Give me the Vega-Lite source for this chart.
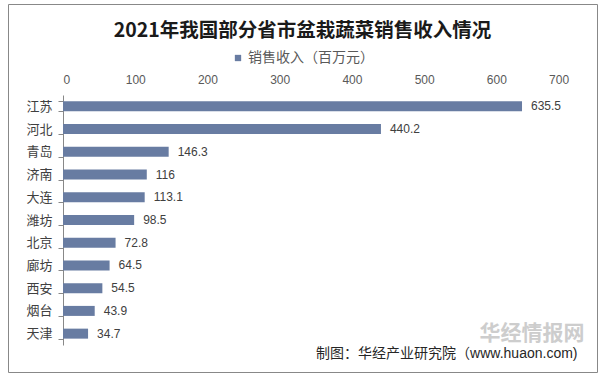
{
  "$schema": "https://vega.github.io/schema/vega-lite/v6.json",
  "width": 589,
  "height": 368,
  "autosize": {"type": "none"},
  "padding": {"left": 8, "top": 4, "right": 8, "bottom": 8},
  "background": "white",
  "config": {
    "view": {"stroke": "#888888", "strokeWidth": 1},
    "font": "Liberation Sans, Noto Sans CJK SC"
  },
  "title": {
    "text": "2021年我国部分省市盆栽蔬菜销售收入情况",
    "font": "Noto Sans CJK SC",
    "fontSize": 19.5,
    "fontWeight": "bold",
    "color": "#1a1a1a",
    "anchor": "middle",
    "frame": "group",
    "offset": 0,
    "baseline": "middle",
    "dy": 52
  },
  "data": {
    "values": [
      {"city": "江苏", "value": 635.5},
      {"city": "河北", "value": 440.2},
      {"city": "青岛", "value": 146.3},
      {"city": "济南", "value": 116},
      {"city": "大连", "value": 113.1},
      {"city": "潍坊", "value": 98.5},
      {"city": "北京", "value": 72.8},
      {"city": "廊坊", "value": 64.5},
      {"city": "西安", "value": 54.5},
      {"city": "烟台", "value": 43.9},
      {"city": "天津", "value": 34.7}
    ]
  },
  "encoding": {
    "y": {
      "field": "city",
      "type": "nominal",
      "sort": null,
      "scale": {"range": [91, 341], "paddingInner": 0.56, "paddingOuter": 0.28},
      "axis": {
        "orient": "left",
        "offset": -55,
        "domainColor": "#888888",
        "tickColor": "#888888",
        "tickSize": 5,
        "tickBand": "extent",
        "labelFontSize": 13,
        "labelColor": "#404040",
        "labelPadding": 6,
        "title": "制图：华经产业研究院（www.huaon.com)",
        "titleAngle": 0,
        "titleX": 514,
        "titleY": 349,
        "titleAlign": "right",
        "titleBaseline": "middle",
        "titleFontSize": 14,
        "titleFontWeight": "normal",
        "titleColor": "#262626"
      }
    },
    "x": {
      "field": "value",
      "type": "quantitative",
      "scale": {"domain": [0, 700], "nice": false, "range": [55, 560.6]},
      "axis": {
        "orient": "top",
        "offset": -84,
        "values": [0, 100, 200, 300, 400, 500, 600, 700],
        "domain": false,
        "ticks": false,
        "grid": false,
        "labelFontSize": 12,
        "labelColor": "#595959",
        "labelPadding": 2,
        "title": "华经情报网",
        "titleX": 471,
        "titleY": 245,
        "titleAlign": "left",
        "titleBaseline": "middle",
        "titleFontSize": 21,
        "titleFontWeight": "bold",
        "titleColor": "#cdcdcd",
        "titleFont": "Noto Sans CJK SC"
      }
    }
  },
  "layer": [
    {
      "mark": {"type": "bar"},
      "encoding": {
        "color": {
          "datum": "销售收入（百万元）",
          "scale": {"range": ["#687CA2"]},
          "legend": {
            "orient": "none",
            "legendX": 223,
            "legendY": 47,
            "title": null,
            "symbolType": "square",
            "symbolSize": 40,
            "labelFontSize": 14,
            "labelColor": "#595959",
            "labelOffset": 3
          }
        }
      }
    },
    {
      "mark": {"type": "text", "align": "left", "baseline": "middle", "dx": 9, "fontSize": 12, "color": "#404040"},
      "encoding": {"text": {"field": "value", "type": "quantitative"}}
    }
  ]
}
